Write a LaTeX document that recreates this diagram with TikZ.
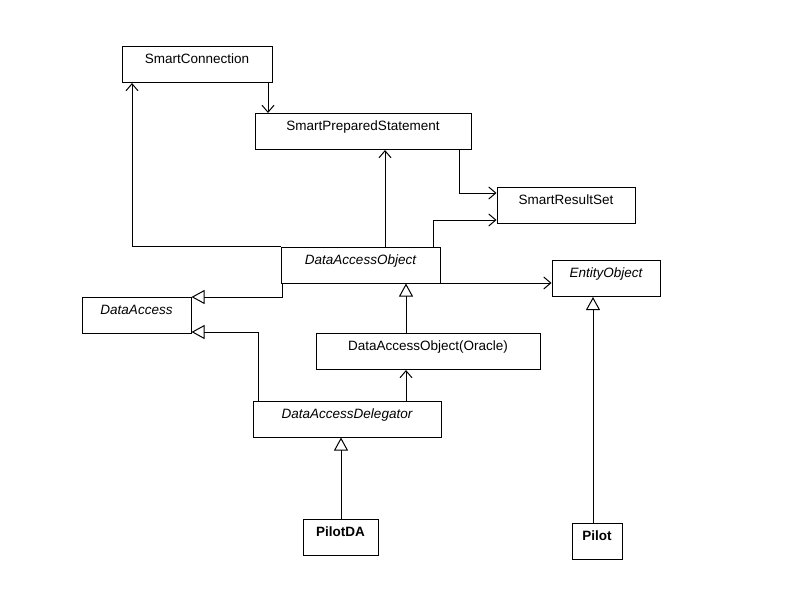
\documentclass[tikz,border=0pt]{standalone}
\usepackage{fontspec}
\setmainfont{Liberation Sans}
\usetikzlibrary{arrows.meta}
\begin{document}
\begin{tikzpicture}[x=1pt,y=-1pt,line width=1pt,
  cls/.style={draw,rectangle,inner xsep=0pt,inner ysep=1pt,minimum height=36pt,text height=16pt,text depth=18pt,font=\fontsize{13.5}{14}\selectfont},
  assoc/.style={-{Straight Barb[length=7pt,width=12pt,line width=1pt]}},
  gen/.style={-{Triangle[open,length=13pt,width=14pt,fill=white]}}]
\useasboundingbox (0,0) rectangle (800,600);
\node[cls,minimum width=150pt] (sc) at (197,64.5) {SmartConnection};
\node[cls,minimum width=216pt] (sps) at (363,131.5) {SmartPreparedStatement};
\node[cls,minimum width=138pt] (srs) at (566,205.5) {SmartResultSet};
\node[cls,minimum width=159pt] (dao) at (360.5,265) {\itshape DataAccessObject};
\node[cls,minimum width=108pt] (eo) at (606,278.5) {\itshape EntityObject};
\node[cls,minimum width=109pt] (da) at (136.5,315) {\itshape DataAccess};
\node[cls,minimum width=224pt] (ora) at (428,351.5) {DataAccessObject(Oracle)};
\node[cls,minimum width=188pt] (del) at (347,419) {\itshape DataAccessDelegator};
\node[cls,minimum width=75pt] (pda) at (340.5,537.5) {\bfseries PilotDA};
\node[cls,minimum width=50pt] (pilot) at (597,541) {\bfseries Pilot};
% associations
\draw[assoc] (dao.west |- 0,246) -- (132,246) -- (sc.south -| 132,0);
\draw[assoc] (sc.south -| 268,0) -- (sps.north -| 268,0);
\draw[assoc] (dao.north -| 385,0) -- (sps.south -| 385,0);
\draw[assoc] (sps.south -| 459,0) -- (459,193) -- (srs.west |- 0,193);
\draw[assoc] (dao.north -| 433,0) -- (433,220) -- (srs.west |- 0,220);
\draw[assoc] (dao.east |- 0,283) -- (eo.west |- 0,283);
\draw[assoc] (del.north -| 406,0) -- (ora.south -| 406,0);
% generalizations
\draw[gen] (dao.south -| 282,0) -- (282,297) -- (da.east |- 0,297);
\draw[gen] (del.north -| 258,0) -- (258,332) -- (da.east |- 0,332);
\draw[gen] (ora.north -| 406,0) -- (dao.south -| 406,0);
\draw[gen] (pda.north -| 341,0) -- (del.south -| 341,0);
\draw[gen] (pilot.north -| 593,0) -- (eo.south -| 593,0);
\end{tikzpicture}
\end{document}
